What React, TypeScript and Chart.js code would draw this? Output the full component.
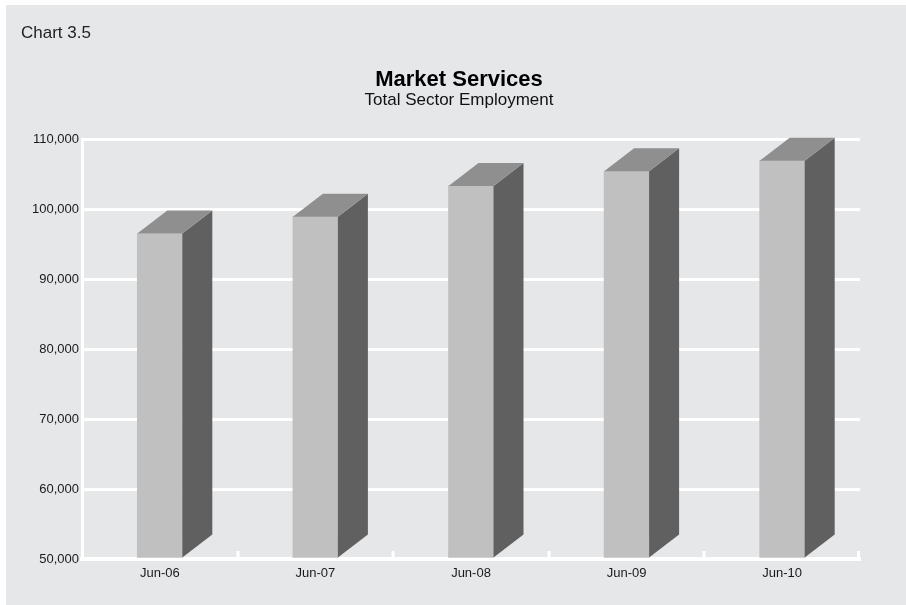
import { useEffect, useRef } from 'react';
import { Chart, registerables } from 'chart.js';

Chart.register(...registerables);

// ---- data ----
const categories = ['Jun-06', 'Jun-07', 'Jun-08', 'Jun-09', 'Jun-10'];
const employment = [96500, 98900, 103300, 105400, 106900];
const yAxisMin = 50000;
const yAxisMax = 110000;
const yAxisStep = 10000;

const FONT = "'Liberation Sans', Arial, Helvetica, sans-serif";
const DEPTH_X = 30;
const DEPTH_Y = -23;

export default function App() {
  const ref = useRef<HTMLCanvasElement>(null);

  useEffect(() => {
    document.body.style.margin = '0';
    const canvas = ref.current;
    if (!canvas) return;

    const panelPlugin = {
      id: 'panel',
      beforeDraw(chart: any) {
        const ctx = chart.ctx;
        ctx.save();
        ctx.fillStyle = '#ffffff';
        ctx.fillRect(0, 0, chart.width, chart.height);
        ctx.fillStyle = '#e6e7e9';
        ctx.fillRect(6, 5, chart.width - 6, chart.height - 5);
        ctx.fillStyle = '#1f1f1f';
        ctx.font = `17px ${FONT}`;
        ctx.textBaseline = 'alphabetic';
        ctx.textAlign = 'left';
        ctx.fillText('Chart 3.5', 21, 37.5);
        ctx.restore();
      },
    };

    const bar3dPlugin = {
      id: 'bar3d',
      afterDatasetsDraw(chart: any) {
        const ctx = chart.ctx;
        const meta = chart.getDatasetMeta(0);
        const areaBottom = chart.chartArea.bottom;
        ctx.save();
        meta.data.forEach((el: any) => {
          const { x, y, base, width } = el.getProps(['x', 'y', 'base', 'width'], true);
          const left = x - width / 2;
          const right = x + width / 2;
          const top = Math.min(y, base);
          const bottom = Math.min(Math.max(y, base), areaBottom);
          // side face
          ctx.fillStyle = '#606060';
          ctx.beginPath();
          ctx.moveTo(right, top);
          ctx.lineTo(right + DEPTH_X, top + DEPTH_Y);
          ctx.lineTo(right + DEPTH_X, bottom + DEPTH_Y);
          ctx.lineTo(right, bottom);
          ctx.closePath();
          ctx.fill();
          // top face
          ctx.fillStyle = '#8f8f8f';
          ctx.beginPath();
          ctx.moveTo(left, top);
          ctx.lineTo(left + DEPTH_X, top + DEPTH_Y);
          ctx.lineTo(right + DEPTH_X, top + DEPTH_Y);
          ctx.lineTo(right, top);
          ctx.closePath();
          ctx.fill();
        });
        ctx.restore();
      },
    };

    const xTickPlugin = {
      id: 'xTickMarks',
      afterDraw(chart: any) {
        const ctx = chart.ctx;
        const xs = chart.scales.x;
        const bottom = chart.chartArea.bottom;
        ctx.save();
        ctx.strokeStyle = '#ffffff';
        ctx.lineWidth = 3;
        for (let i = 1; i <= categories.length; i++) {
          let px = Math.round(xs.getPixelForValue(i - 0.5));
          if (i === categories.length) px -= 1.5;
          ctx.beginPath();
          ctx.moveTo(px, bottom - 8);
          ctx.lineTo(px, bottom);
          ctx.stroke();
        }
        ctx.restore();
      },
    };

    const chart = new Chart(canvas, {
      type: 'bar',
      data: {
        labels: categories,
        datasets: [
          {
            label: 'Total Sector Employment',
            data: employment,
            base: yAxisMin,
            backgroundColor: '#c0c0c0',
            borderWidth: 0,
            barThickness: 45,
            yAxisID: 'y',
          },
        ],
      },
      options: {
        responsive: false,
        animation: false,
        devicePixelRatio: 1,
        layout: { padding: { left: 28, right: 16, top: 0, bottom: 0 } },
        plugins: {
          legend: { display: false },
          tooltip: { enabled: false },
          title: {
            display: true,
            text: 'Market Services',
            color: '#000000',
            font: { family: FONT, size: 22, weight: 'bold', lineHeight: 1 },
            padding: { top: 68.5, bottom: 0 },
          },
          subtitle: {
            display: true,
            text: 'Total Sector Employment',
            color: '#111111',
            font: { family: FONT, size: 17, lineHeight: 1 },
            padding: { top: 1, bottom: 30.5 },
          },
        },
        scales: {
          x: {
            offset: true,
            z: 1,
            grid: { display: false, drawTicks: false },
            border: { display: true, color: '#ffffff', width: 4 },
            ticks: { color: '#1a1a1a', font: { family: FONT, size: 13 }, padding: 7 },
            afterFit: (s: any) => {
              s.height = 46;
            },
          },
          y: {
            position: 'left',
            min: yAxisMin,
            max: yAxisMax,
            grid: { color: '#ffffff', lineWidth: 3, drawTicks: false },
            border: { display: true, color: '#ffffff', width: 3 },
            ticks: {
              stepSize: yAxisStep,
              color: '#1a1a1a',
              font: { family: FONT, size: 13 },
              padding: 3,
              callback: (v: any) => Number(v).toLocaleString('en-US'),
            },
            afterFit: (s: any) => {
              s.width = 54;
            },
          },
          yRightSpace: {
            position: 'right',
            display: true,
            grid: { display: false, drawTicks: false },
            border: { display: false },
            ticks: { display: false },
            afterFit: (s: any) => {
              s.width = 30;
            },
          },
        },
      },
      plugins: [panelPlugin, bar3dPlugin, xTickPlugin],
    });

    return () => chart.destroy();
  }, []);

  return <canvas ref={ref} width={906} height={605} style={{ display: 'block' }} />;
}
